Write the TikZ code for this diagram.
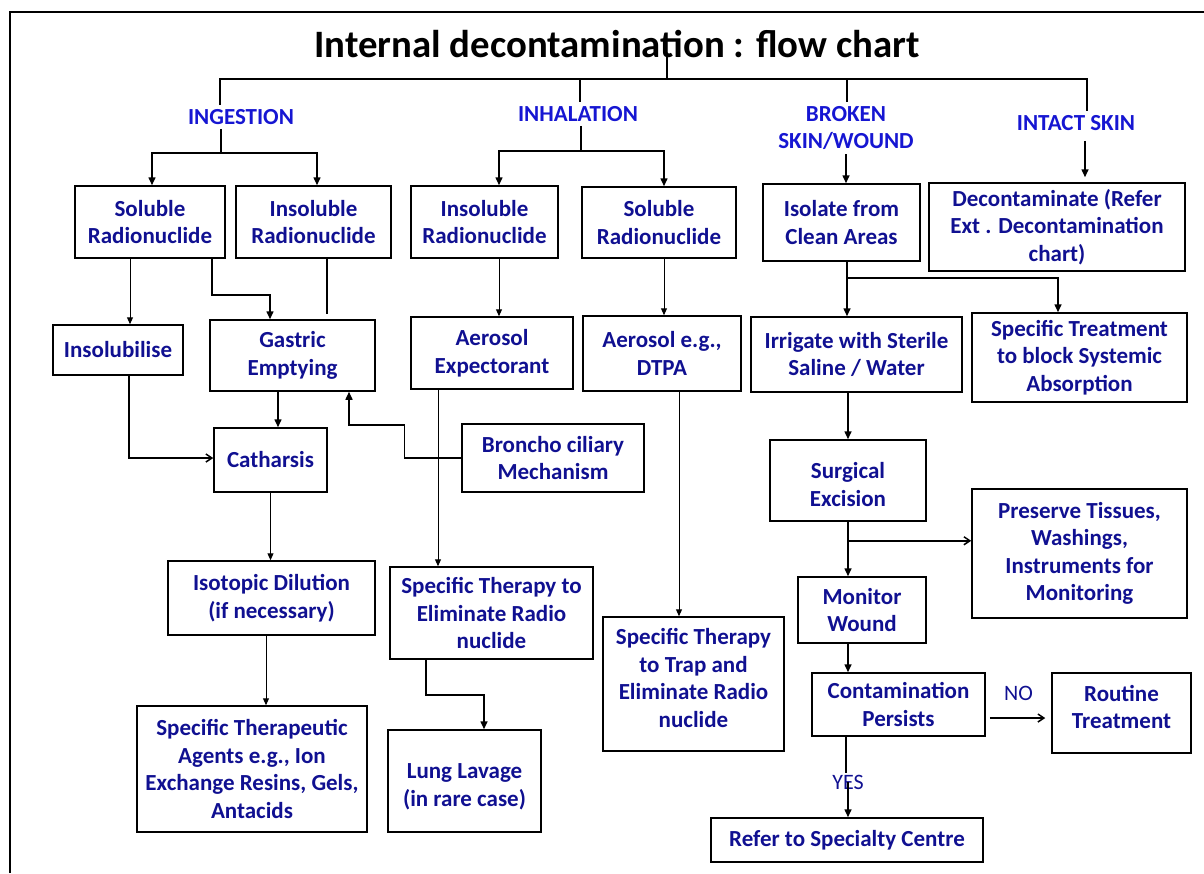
\documentclass[tikz,border=0pt]{standalone}
\usepackage{fontspec}
\setmainfont{Carlito}
\usetikzlibrary{arrows.meta}
\definecolor{navy}{RGB}{16,16,145}
\definecolor{lblue}{RGB}{22,22,210}
\newcommand{\bxfont}{\fontsize{23}{27.5}\selectfont\bfseries}
\newcommand{\ynfont}{\fontsize{22}{26}\selectfont}
\newcommand{\ttlfont}{\fontsize{38.8}{44}\selectfont\bfseries}
\newcommand{\updepth}[1]{\rule[-#1]{0pt}{#1}}
\newcommand{\downheight}[1]{\rule{0pt}{#1}}
\begin{document}
\begin{tikzpicture}[x=1pt,y=-1pt,
 box/.style={draw=black, line width=1.5pt, inner sep=0pt, align=center, text=navy, font=\bxfont},
 lbl/.style={text=lblue, font=\bxfont, inner sep=4pt, align=center},
 yn/.style={text=navy, font=\ynfont, inner sep=2pt},
 conn/.style={line width=1.5pt},
 thin/.style={line width=1pt},
 arr/.style={conn, -{Triangle[length=8pt,width=7pt]}},
 tarr/.style={thin, -{Triangle[length=7pt,width=6pt]}},
 barb/.style={conn, -{Straight Barb[length=6pt,width=8pt]}},
]
\useasboundingbox (0,0) rectangle (1204,873);
\draw[line width=1.5pt] (10,873) -- (10,12) -- (1204,12);

% title and category labels
\node[font=\ttlfont, anchor=base, inner sep=0pt] (title) at (617,57) {Internal decontamination : flow chart};
\node[lbl] (ing) at (241,117) {INGESTION};
\node[lbl] (inh) at (578,114) {INHALATION};
\node[lbl] (brok) at (846,128) {BROKEN\\SKIN/WOUND};
\node[lbl] (intact) at (1076,123) {INTACT SKIN};

% boxes
\node[box, minimum width=150, minimum height=72] (sol1) at (150,222) {Soluble\\Radionuclide};
\node[box, minimum width=155, minimum height=72] (insol1) at (313.5,222) {Insoluble\\Radionuclide};
\node[box, minimum width=147, minimum height=72] (insol2) at (484.5,222) {Insoluble\\Radionuclide};
\node[box, minimum width=154, minimum height=71] (sol2) at (659,222.5) {Soluble\\Radionuclide};
\node[box, minimum width=157, minimum height=77] (iso) at (841.5,222.5) {Isolate from\\Clean Areas};
\node[box, minimum width=256, minimum height=88] (deco) at (1057,227) {Decontaminate (Refer\\Ext . Decontamination\\chart)};
\node[box, minimum width=130, minimum height=50] (insolub) at (118,350) {Insolubilise};
\node[box, minimum width=165, minimum height=71] (gastric) at (292.5,355.5) {Gastric\\Emptying};
\node[box, minimum width=162, minimum height=72] (aeroexp) at (492,353) {Aerosol\\Expectorant};
\node[box, minimum width=158, minimum height=75] (dtpa) at (662,353.5) {Aerosol e.g.,\\DTPA};
\node[box, minimum width=211, minimum height=75] (irrigate) at (856.5,354.5) {Irrigate with Sterile\\Saline / Water};
\node[box, minimum width=215, minimum height=89] (spectreat) at (1079.5,357.5) {Specific Treatment\\to block Systemic\\Absorption};
\node[box, minimum width=113, minimum height=64] (catharsis) at (270.5,460) {Catharsis};
\node[box, minimum width=182, minimum height=68] (broncho) at (553,458) {Broncho ciliary\\Mechanism};
\node[box, minimum width=156, minimum height=81] (surgical) at (848,480.5) {\downheight{24pt}Surgical\\Excision};
\node[box, minimum width=215, minimum height=129] (preserve) at (1079.5,553.5) {Preserve Tissues,\\Washings,\\Instruments for\\Monitoring};
\node[box, minimum width=207, minimum height=74] (isotopic) at (271.5,598) {Isotopic Dilution\\(if necessary)};
\node[box, minimum width=203, minimum height=92] (specelim) at (491.5,613) {Specific Therapy to\\Eliminate Radio\\nuclide};
\node[box, minimum width=181, minimum height=134] (spectrap) at (693.5,684) {Specific Therapy\\to Trap and\\Eliminate Radio\\nuclide\updepth{12pt}};
\node[box, minimum width=128, minimum height=66] (monitor) at (862,610) {Monitor\\Wound};
\node[box, minimum width=173, minimum height=63] (contam) at (898.5,704.5) {Contamination\\Persists};
\node[box, minimum width=139, minimum height=80] (routine) at (1121.5,713) {Routine\\Treatment\updepth{12pt}};
\node[box, minimum width=230, minimum height=126] (spectherap) at (252,769) {Specific Therapeutic\\Agents e.g., Ion\\Exchange Resins, Gels,\\Antacids};
\node[box, minimum width=153, minimum height=102] (lung) at (464.5,781) {\downheight{26pt}Lung Lavage\\(in rare case)};
\node[box, minimum width=272, minimum height=44] (refer) at (847,840) {Refer to Specialty Centre};
\node[yn] (yes) at (848,782) {YES};

% top tree
\coordinate (t0) at (667,79);
\coordinate (tL) at (220,79);
\coordinate (tI) at (580,79);
\coordinate (tB) at (847,79);
\coordinate (tR) at (1087,79);
\draw[conn] (t0 |- title.base) -- (t0);
\draw[conn] (tL |- ing.north) -- (tL) -- (tR) -- (tR |- intact.north);
\draw[conn] (tI) -- (tI |- inh.north);
\draw[conn] (tB) -- (tB |- brok.north);

% ingestion
\coordinate (ingj) at (221,153);
\draw[conn] (ingj |- ing.south) -- (ingj);
\draw[arr] (ingj) -| ([xshift=2]sol1.north);
\draw[arr] (ingj) -| ([xshift=3.5]insol1.north);
\draw[tarr] ([xshift=-20]sol1.south) -- ([xshift=-20]sol1.south |- insolub.north);
\draw[arr] ([xshift=62]sol1.south) -- ++(0,36) -| ([xshift=-22.5]gastric.north);
\draw[conn, shorten >=5pt] ([xshift=13.5]insol1.south) -- ([xshift=13.5]insol1.south |- gastric.north);
\draw[arr] ([xshift=-14.5]gastric.south) -- ([xshift=-14.5]gastric.south |- catharsis.north);
\draw[barb] ([xshift=11]insolub.south) |- ([yshift=2]catharsis.west);
\draw[tarr] (catharsis.south) -- (catharsis.south |- isotopic.north);
\draw[tarr] ([xshift=-5.5]isotopic.south) -- ([xshift=-5.5]isotopic.south |- spectherap.north);
\draw[arr] (broncho.west) -- ++(-57,0) -- ++(0,-33) -| ([xshift=56.5]gastric.south);

% inhalation
\coordinate (inhj) at (581,151);
\draw[conn] (inhj |- inh.south) -- (inhj);
\draw[arr] (inhj) -| ([xshift=14.5]insol2.north);
\draw[arr] (inhj) -| ([xshift=5]sol2.north);
\draw[tarr] ([xshift=14.5]insol2.south) -- ([xshift=14.5]insol2.south |- aeroexp.north);
\draw[tarr] ([xshift=-54]aeroexp.south) -- ([xshift=-54]aeroexp.south |- specelim.north);
\draw[tarr] ([xshift=5]sol2.south) -- ([xshift=5]sol2.south |- dtpa.north);
\draw[tarr] ([xshift=17]dtpa.south) -- ([xshift=17]dtpa.south |- spectrap.north);
\draw[arr] ([xshift=-65.5]specelim.south) -- ++(0,35) -| ([xshift=19.5]lung.north);

% broken skin / wound
\draw[arr] (brok.south) -- (brok.south |- iso.north);
\draw[arr, shorten <=6pt, shorten >=5pt] ([xshift=9]intact.south) -- ([xshift=9]intact.south |- deco.north);
\draw[arr] ([xshift=5.5]iso.south) -- ([xshift=5.5]iso.south |- irrigate.north);
\draw[arr] ([xshift=5.5]iso.south) ++(0,16) -| ([xshift=-21.5]spectreat.north);
\draw[arr] (surgical.north |- irrigate.south) -- (surgical.north);
\draw[arr] (surgical.south) -- (surgical.south |- monitor.north);
\draw[barb] ([yshift=-19]surgical.south) -- ([yshift=-19]surgical.south -| preserve.west);
\draw[arr] ([xshift=-14]monitor.south) -- ([xshift=-14]monitor.south |- contam.north);
\draw[barb, shorten <=4pt, shorten >=6pt] ([yshift=-13.5]contam.east) -- ([yshift=-13.5]contam.east -| routine.west)
  node[yn, pos=0.5, yshift=25] (no) {NO};
\draw[conn] ([xshift=-52.5]contam.south) -- ([xshift=-52.5]contam.south |- yes.north);
\draw[arr] (yes.center) -- (yes.center |- refer.north);
\end{tikzpicture}
\end{document}
